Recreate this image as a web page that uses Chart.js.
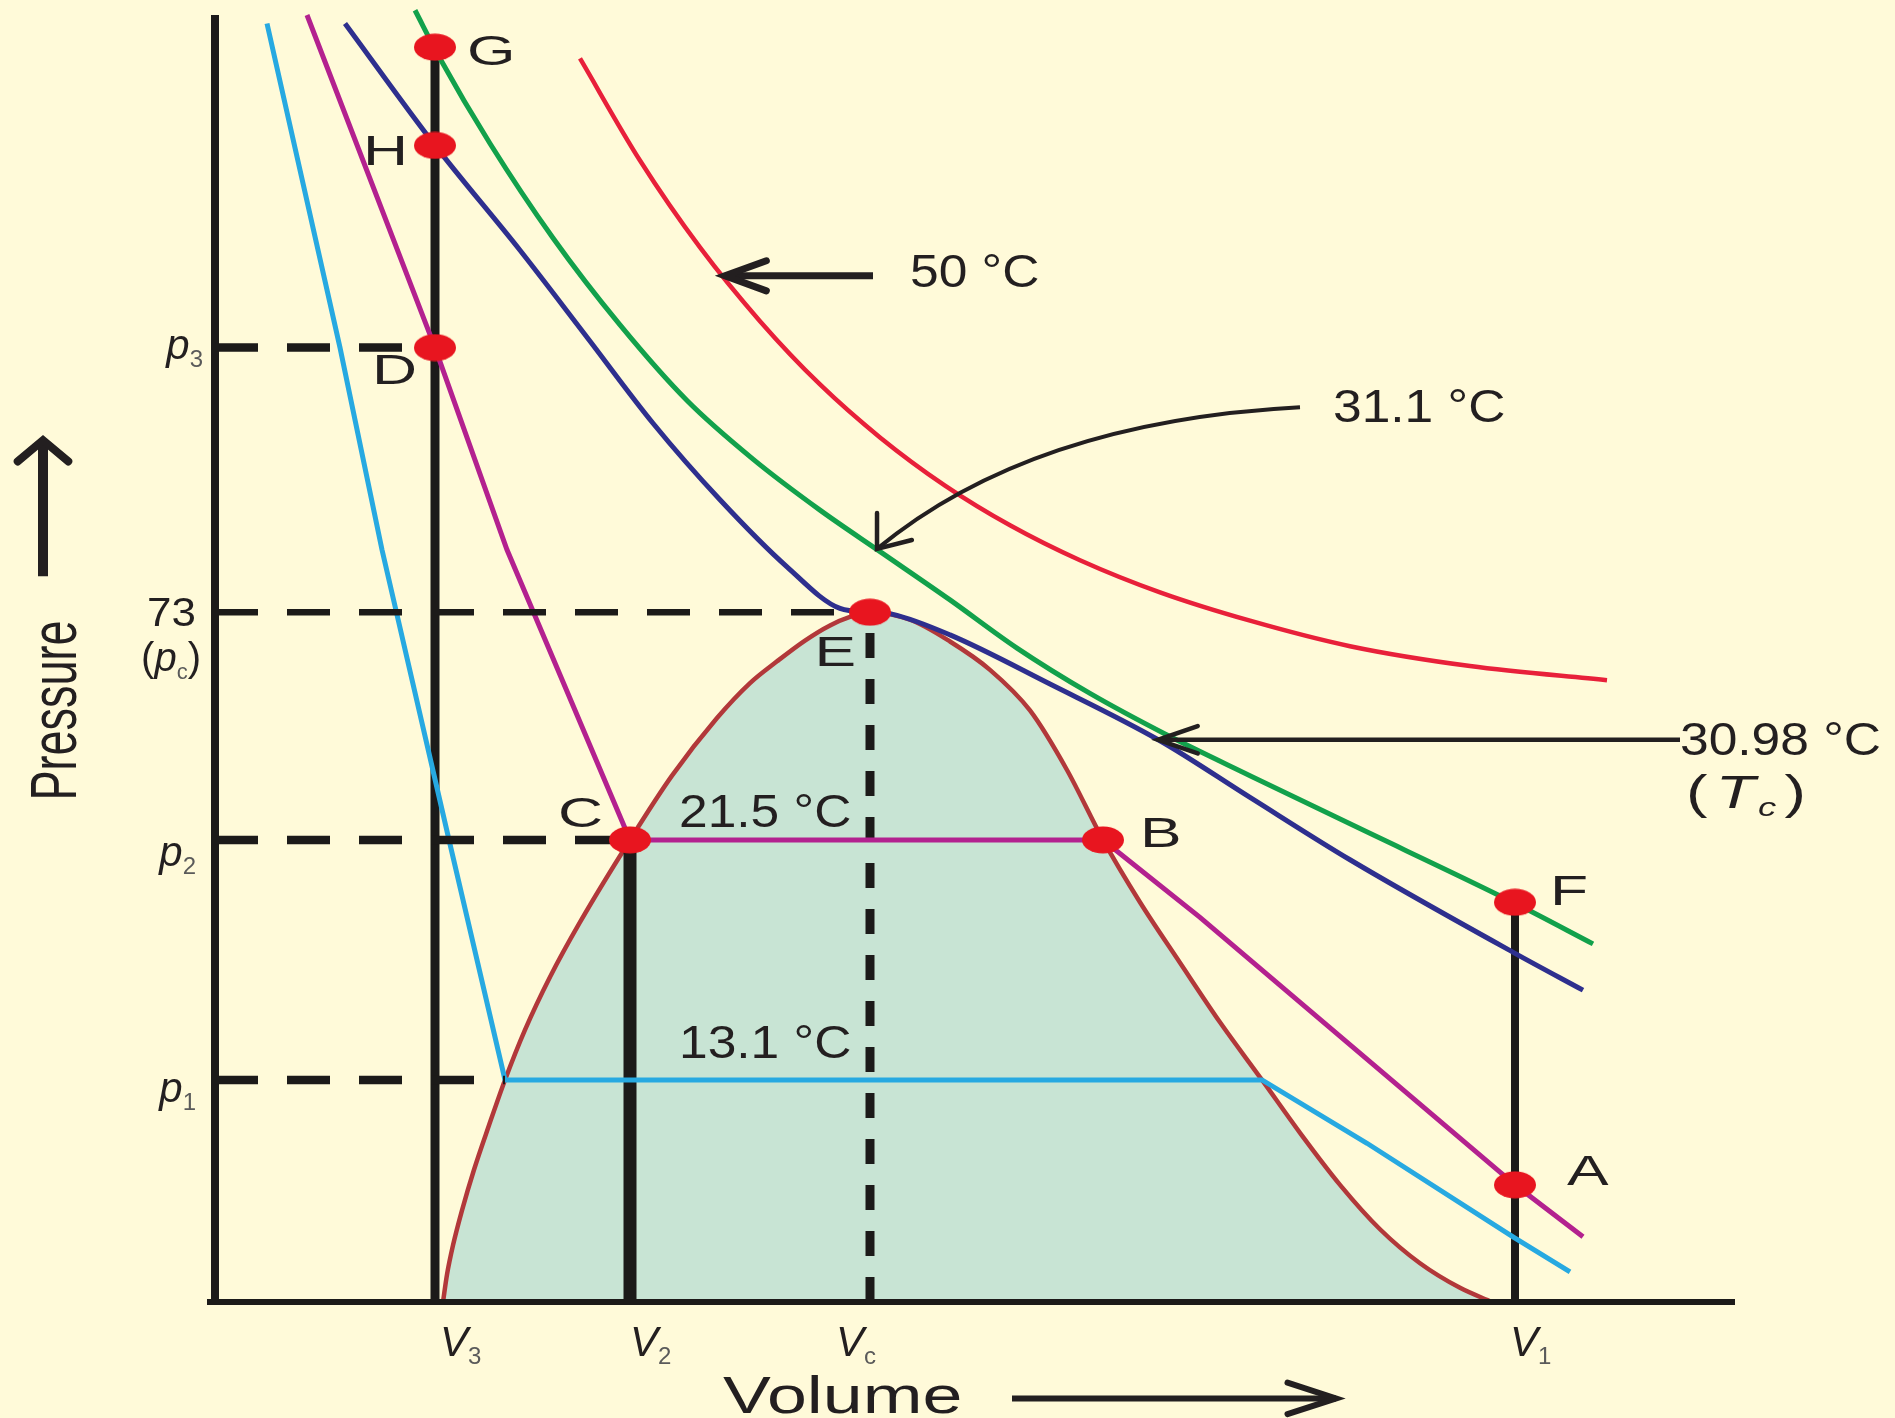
<!DOCTYPE html>
<html>
<head>
<meta charset="utf-8">
<title>Isotherms of carbon dioxide</title>
<script src="https://cdn.jsdelivr.net/npm/chart.js@4.4.1/dist/chart.umd.min.js"></script>
<style>
  html, body { margin: 0; padding: 0; background: #FFFAD9; }
  #wrap { position: relative; width: 1895px; height: 1418px; }
</style>
</head>
<body>
<div id="wrap"><canvas id="co2"></canvas></div>
<script>
// isotherms of CO2, volume / pressure in arbitrary units
const isoTemps = ['13.1 °C', '21.5 °C', '30.98 °C', '31.1 °C', '50 °C'];

const iso131Vol  = [5.2, 12.5, 16.7, 23.4, 29.0, 104.7, 115.2, 129.8, 135.5];
const iso131Pres = [135.3, 101.0, 79.6, 48.9, 23.5, 23.5, 16.8, 6.9, 3.2];

const iso215Vol  = [9.2, 22.0, 29.2, 41.5, 88.8, 98.5, 130.0, 136.8];
const iso215Pres = [136.2, 101.0, 79.6, 48.9, 48.9, 40.7, 12.4, 6.9];

const isoTcVol  = [13.0, 22.0, 30.5, 37.2, 43.8, 50.5, 57.2, 62.5, 65.5, 67.7, 73.5, 83.5, 94.5, 103.5, 113.5, 130.0, 136.8];
const isoTcPres = [135.3, 122.4, 111.3, 102.1, 93.0, 84.9, 77.8, 73.4, 73.0, 72.8, 70.6, 65.4, 59.4, 53.4, 46.8, 36.9, 33.0];

const iso311Vol  = [20.0, 22.5, 27.5, 33.8, 40.5, 47.2, 53.8, 60.5, 66.8, 73.5, 80.2, 87.5, 95.2, 103.5, 113.5, 130.0, 137.8];
const iso311Pres = [136.7, 131.6, 122.6, 112.6, 103.4, 95.4, 89.2, 83.8, 79.2, 74.3, 69.2, 64.4, 60.0, 55.7, 50.6, 42.2, 37.9];

const iso50Vol  = [36.5, 42.5, 48.5, 54.5, 60.5, 66.5, 73.0, 79.5, 86.5, 94.5, 103.5, 113.5, 125.5, 139.2];
const iso50Pres = [131.6, 120.8, 111.6, 103.8, 97.1, 91.5, 86.4, 82.2, 78.5, 75.1, 72.1, 69.4, 67.3, 65.8];

// liquid + vapour region
const domeVol  = [22.8, 23.2, 23.8, 24.7, 25.9, 27.4, 29.0, 31.0, 33.5, 36.5, 41.5, 45.7, 50.2, 53.5, 56.2, 59.0, 61.5, 63.5, 65.5,
                  69.5, 73.5, 77.5, 81.5, 85.2, 88.8, 92.5, 96.5, 100.5, 104.7, 108.5, 112.5, 116.5, 120.5, 124.5, 127.7];
const domePres = [0, 2.9, 6.0, 9.7, 14.0, 18.7, 23.5, 28.8, 34.4, 40.2, 48.9, 55.7, 61.8, 65.5, 67.8, 70.0, 71.6, 72.5, 73.0,
                  72.2, 69.9, 66.9, 62.6, 56.3, 48.9, 42.3, 35.9, 29.6, 23.5, 17.9, 12.4, 7.7, 4.1, 1.5, 0];

const pointNames = ['G', 'H', 'D', 'E', 'C', 'B', 'F', 'A'];
const pointVol   = [22.0, 22.0, 22.0, 65.5, 41.5, 88.8, 130.0, 130.0];
const pointPres  = [132.8, 122.4, 101.0, 73.0, 48.9, 48.9, 42.3, 12.4];

const volTicks  = [22.0, 41.5, 65.5, 130.0];   // V3, V2, Vc, V1
const volSubs   = ['3', '2', 'c', '1'];
const volTops   = [132.8, 48.9, 73.0, 42.3];   // up to G, C, E, F
const presTicks = [101.0, 73.0, 48.9, 23.5];   // p3, pc, p2, p1
const presEnds  = [22.0, 65.5, 41.5, 29.0];    // out to D, E, C, dome

const INK = '#231F20';
const FONT = '"Liberation Sans", Arial, sans-serif';

function pts(xs, ys) {
  return xs.map((x, i) => ({ x: x, y: ys[i] }));
}

function line(label, vol, pres, color, width, order, smooth) {
  return {
    label: label,
    data: pts(vol, pres),
    borderColor: color,
    borderWidth: width,
    pointRadius: 0,
    fill: false,
    clip: false,
    order: order,
    tension: 0,
    capBezierPoints: false,
    cubicInterpolationMode: smooth ? 'monotone' : 'default'
  };
}

// the red dots are wider than tall in the source picture
const dot = document.createElement('canvas');
dot.width = 44;
dot.height = 28;
const dctx = dot.getContext('2d');
dctx.fillStyle = '#E8151F';
dctx.beginPath();
dctx.ellipse(22, 14, 21, 13.5, 0, 0, Math.PI * 2);
dctx.fill();

// text made of several runs (italic letters, subscripts)
function runs(ctx, parts, x, y, align, sx) {
  sx = sx || 1;
  let total = 0;
  parts.forEach(p => {
    ctx.font = (p[2] ? 'italic ' : '') + p[1] + 'px ' + FONT;
    p.w = ctx.measureText(p[0]).width + (p[5] || 0);
    total += p.w;
  });
  let cx = x;
  if (align === 'right') cx = x - total * sx;
  if (align === 'center') cx = x - total * sx / 2;
  parts.forEach(p => {
    ctx.save();
    ctx.translate(cx, y + (p[3] || 0));
    ctx.scale(sx, 1);
    ctx.font = (p[2] ? 'italic ' : '') + p[1] + 'px ' + FONT;
    ctx.fillStyle = p[4] || INK;
    ctx.textAlign = 'left';
    ctx.textBaseline = 'alphabetic';
    ctx.fillText(p[0], 0, 0);
    ctx.restore();
    cx += p.w * sx;
  });
}

function head(ctx, x, y, back, len, ang, w) {
  ctx.lineWidth = w;
  ctx.lineCap = 'round';
  ctx.lineJoin = 'miter';
  ctx.beginPath();
  ctx.moveTo(x + Math.cos(back + ang) * len, y + Math.sin(back + ang) * len);
  ctx.lineTo(x, y);
  ctx.lineTo(x + Math.cos(back - ang) * len, y + Math.sin(back - ang) * len);
  ctx.stroke();
}

function arrow(ctx, x0, y0, x1, y1, w, len, angDeg, hw) {
  ctx.strokeStyle = INK;
  ctx.lineWidth = w;
  ctx.lineCap = 'butt';
  ctx.beginPath();
  ctx.moveTo(x0, y0);
  ctx.lineTo(x1, y1);
  ctx.stroke();
  head(ctx, x1, y1, Math.atan2(y0 - y1, x0 - x1), len, angDeg * Math.PI / 180, hw || w);
}

const labels = {
  id: 'labels',
  afterDatasetsDraw(chart) {
    const ctx = chart.ctx;
    const X = v => chart.scales.x.getPixelForValue(v);
    const Y = p => chart.scales.y.getPixelForValue(p);
    ctx.save();

    // letters next to the red points
    const letterPos = {
      G: [32, 18, 'left'], H: [-27, 20, 'right'], D: [-18, 36, 'right'], E: [-14, 54, 'right'],
      C: [-27, -13, 'right'], B: [37, 7, 'left'], F: [35, 3, 'left'], A: [52, 0, 'left']
    };
    pointNames.forEach((n, i) => {
      const o = letterPos[n];
      runs(ctx, [[n, 43]], X(pointVol[i]) + o[0], Y(pointPres[i]) + o[1], o[2], 1.45);
    });

    // temperatures
    runs(ctx, [[isoTemps[4], 46]], X(69.5), Y(107.4), 'left', 1.12);
    runs(ctx, [[isoTemps[3], 46]], X(111.8), Y(93.1), 'left', 1.12);
    runs(ctx, [[isoTemps[2], 46]], X(146.5), Y(57.9), 'left', 1.12);
    runs(ctx, [['(', 46, false, 0, null, 6], ['T', 46, true, 0, null, 2], ['c', 26, true, 8, null, 6], [')', 46]],
         X(147.1), Y(52.3), 'left', 1.4);
    runs(ctx, [[isoTemps[1], 46]], X(46.4), Y(50.3), 'left', 1.12);
    runs(ctx, [[isoTemps[0], 46]], X(46.4), Y(25.8), 'left', 1.12);

    // pointers to the isotherms
    arrow(ctx, X(65.8), Y(108.6), X(51.0), Y(108.6), 7, 44, 20);
    arrow(ctx, X(146.5), Y(59.5), X(94.3), Y(59.5), 4.5, 42, 19);
    ctx.strokeStyle = INK;
    ctx.lineWidth = 4;
    ctx.lineCap = 'butt';
    ctx.beginPath();
    ctx.moveTo(X(108.5), Y(94.7));
    ctx.quadraticCurveTo(X(81.6), Y(93.2), X(66.2), Y(79.7));
    ctx.stroke();
    head(ctx, X(66.2), Y(79.7), -0.91, 36, 0.66, 4.5);

    // volume ticks
    volTicks.forEach((v, i) => {
      const off = [5, 0, -34, -5][i];
      runs(ctx, [['V', 42, true], [volSubs[i], 24, false, 8, '#5A5A5A']], X(v) + off, Y(0) + 54, 'left');
    });

    // pressure ticks
    const x0 = X(0);
    runs(ctx, [['p', 42, true], ['3', 24, false, 8, '#5A5A5A']], x0 - 12, Y(presTicks[0]) + 11, 'right');
    runs(ctx, [['73', 40]], x0 - 19, Y(presTicks[1]) + 14, 'right', 1.1);
    runs(ctx, [['(', 40], ['p', 40, true], ['c', 22, false, 8, '#5A5A5A'], [')', 40]], x0 - 14, Y(presTicks[1]) + 59, 'right');
    runs(ctx, [['p', 42, true], ['2', 24, false, 8, '#5A5A5A']], x0 - 19, Y(presTicks[2]) + 26, 'right');
    runs(ctx, [['p', 42, true], ['1', 24, false, 8, '#5A5A5A']], x0 - 19, Y(presTicks[3]) + 22, 'right');

    // axis titles
    ctx.save();
    ctx.translate(X(-13.9), Y(62.6));
    ctx.scale(1.45, 1);
    ctx.rotate(-Math.PI / 2);
    ctx.font = '45px ' + FONT;
    ctx.fillStyle = INK;
    ctx.textAlign = 'center';
    ctx.textBaseline = 'alphabetic';
    ctx.fillText('Pressure', 0, 0);
    ctx.restore();
    arrow(ctx, X(-17.2), Y(76.8), X(-17.2), Y(91.2), 10, 33, 50, 8);

    runs(ctx, [['Volume', 52]], X(50.8), Y(-11.7), 'left', 1.38);
    arrow(ctx, X(79.7), Y(-10.2), X(112.1), Y(-10.2), 6, 51, 18);

    ctx.restore();
  }
};

const black = '#1C1A19';
const datasets = [];

datasets.push({
  label: 'states',
  data: pts(pointVol, pointPres),
  showLine: false,
  pointStyle: dot,
  pointRadius: 14,
  order: 0,
  clip: false
});

presTicks.forEach((p, i) => {
  datasets.push({
    label: 'pressure level',
    data: [{ x: 0, y: p }, { x: presEnds[i], y: p }],
    borderColor: black,
    borderWidth: i === 1 ? 6.5 : 8.5,
    borderDash: [43, 29],
    pointRadius: 0,
    order: 1,
    clip: false
  });
});

datasets.push(line(isoTemps[0], iso131Vol, iso131Pres, '#27A9E1', 5, 2, false));
datasets.push(line(isoTemps[1], iso215Vol, iso215Pres, '#B3218F', 5, 2, false));
datasets.push(line(isoTemps[2], isoTcVol, isoTcPres, '#2E2F8E', 5, 2, true));
datasets.push(line(isoTemps[3], iso311Vol, iso311Pres, '#12A14B', 5, 2, true));
datasets.push(line(isoTemps[4], iso50Vol, iso50Pres, '#E8203A', 4.5, 2, true));

volTicks.forEach((v, i) => {
  datasets.push({
    label: 'volume level',
    data: [{ x: v, y: 0 }, { x: v, y: volTops[i] }],
    borderColor: black,
    borderWidth: [9, 13, 9, 8][i],
    borderDash: i === 2 ? [25, 21] : [],
    pointRadius: 0,
    order: 3,
    clip: false
  });
});

// axes
datasets.push({ label: 'axis', data: [{ x: 0, y: 0 }, { x: 0, y: 136.2 }], borderColor: black, borderWidth: 8, pointRadius: 0, order: 3, clip: false });
datasets.push({ label: 'axis', data: [{ x: -0.8, y: 0 }, { x: 152, y: 0 }], borderColor: black, borderWidth: 6, pointRadius: 0, order: 3, clip: false });

datasets.push({
  label: 'liquid + vapour',
  data: pts(domeVol, domePres),
  borderColor: '#B2383A',
  borderWidth: 4.5,
  backgroundColor: '#C8E4D4',
  fill: 'origin',
  pointRadius: 0,
  cubicInterpolationMode: 'monotone',
  capBezierPoints: false,
  order: 4,
  clip: false
});

new Chart(document.getElementById('co2'), {
  type: 'line',
  data: { datasets: datasets },
  options: {
    responsive: true,
    maintainAspectRatio: false,
    animation: false,
    events: [],
    layout: { padding: { left: 205, right: 160, top: 15, bottom: 116 } },
    scales: {
      x: { type: 'linear', min: -1, max: 152, display: false },
      y: { type: 'linear', min: 0, max: 136.2, display: false }
    },
    plugins: {
      legend: { display: false },
      tooltip: { enabled: false }
    }
  },
  plugins: [labels]
});
</script>
</body>
</html>
